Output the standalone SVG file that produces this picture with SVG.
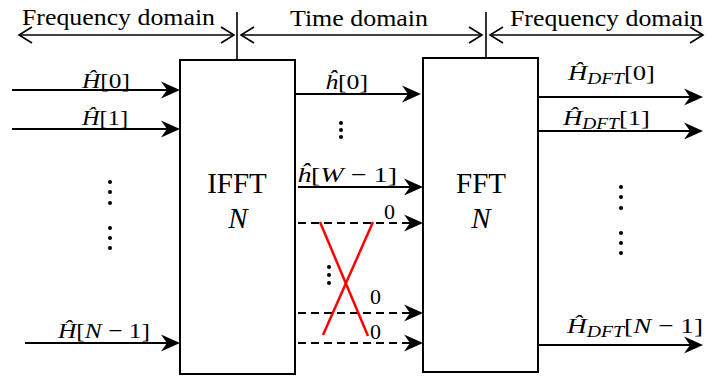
<svg xmlns="http://www.w3.org/2000/svg" width="706" height="376" viewBox="0 0 706 376">
<style>
.lbl{font-family:"Liberation Serif","Times New Roman",serif;font-size:23px;fill:#000}
.blk{font-family:"Liberation Serif","Times New Roman",serif;font-size:29px;fill:#000;text-anchor:middle}
.math{font-family:"Liberation Serif","DejaVu Serif",serif;font-size:22px;fill:#000}
.it{font-style:italic}
.box{fill:#fff;stroke:#000;stroke-width:2}
.ar{stroke:#000;stroke-width:2;fill:none;marker-end:url(#ah)}
.da{stroke:#000;stroke-width:2;fill:none;stroke-dasharray:8 5;marker-end:url(#ah)}
.dbl{stroke:#000;stroke-width:1.6;fill:none;marker-start:url(#oh);marker-end:url(#oh)}
.tick{stroke:#000;stroke-width:1.6}
.dot{fill:#000}
.red{stroke:#ff0000;stroke-width:2.5}
</style>
<defs>
<marker id="ah" markerUnits="userSpaceOnUse" markerWidth="22" markerHeight="20" viewBox="-20 -10 22 20" refX="-5" refY="0" orient="auto" overflow="visible">
<path d="M0,0 L-19,-8.5 L-13,0 L-19,8.5 z" fill="#000"/>
</marker>
<marker id="oh" markerUnits="userSpaceOnUse" markerWidth="20" markerHeight="20" viewBox="-16 -10 20 20" refX="0" refY="0" orient="auto-start-reverse" overflow="visible">
<path d="M-13,-8 L0,0 L-13,8" fill="none" stroke="#000" stroke-width="1.6"/>
</marker>
</defs>

<g id="domains">
<line class="tick" x1="237" y1="12" x2="237" y2="60"/>
<line class="tick" x1="486" y1="12" x2="486" y2="58"/>
<path class="dbl" d="M19,35 H234"/>
<path class="dbl" d="M241,35 H482"/>
<path class="dbl" d="M490,35 H703"/>
<text class="lbl" x="22" y="25" textLength="193" lengthAdjust="spacingAndGlyphs">Frequency domain</text>
<text class="lbl" x="290" y="26" textLength="138" lengthAdjust="spacingAndGlyphs">Time domain</text>
<text class="lbl" x="510" y="26" textLength="193" lengthAdjust="spacingAndGlyphs">Frequency domain</text>
</g>

<g id="ifft">
<rect class="box" x="180" y="60" width="115" height="314"/>
<text class="blk" x="237" y="193">IFFT</text>
<text class="blk it" x="238" y="228">N</text>
</g>

<g id="fft">
<rect class="box" x="423" y="58" width="115" height="314"/>
<text class="blk" x="481" y="193">FFT</text>
<text class="blk it" x="481" y="228">N</text>
</g>

<g id="connectors">
<path class="ar" d="M12,90 H175"/>
<path class="ar" d="M12,129 H175"/>
<path class="ar" d="M25,343 H175"/>
<path class="ar" d="M295,94 H416"/>
<path class="ar" d="M298,187 H418"/>
<path class="da" d="M298,223 H418"/>
<path class="da" d="M298,313 H418"/>
<path class="da" d="M298,343 H418"/>
<path class="ar" d="M538,97 H698"/>
<path class="ar" d="M538,131 H698"/>
<path class="ar" d="M538,345 H698"/>
<line class="red" x1="320" y1="222" x2="368" y2="336"/>
<line class="red" x1="373" y1="222" x2="323" y2="335"/>
</g>

<g id="labels">
<text class="math" x="82" y="88" textLength="48" lengthAdjust="spacingAndGlyphs"><tspan class="it">Ĥ</tspan>[0]</text>
<text class="math" x="82" y="125" textLength="46" lengthAdjust="spacingAndGlyphs"><tspan class="it">Ĥ</tspan>[1]</text>
<text class="math" x="58" y="338" textLength="92" lengthAdjust="spacingAndGlyphs"><tspan class="it">Ĥ</tspan>[<tspan class="it">N</tspan> − 1]</text>
<text class="math" x="325" y="89" textLength="43" lengthAdjust="spacingAndGlyphs"><tspan class="it">ĥ</tspan>[0]</text>
<text class="math" x="297" y="182" textLength="100" lengthAdjust="spacingAndGlyphs"><tspan class="it">ĥ</tspan>[<tspan class="it">W</tspan> − 1]</text>
<text class="math" x="384" y="219">0</text>
<text class="math" x="370" y="304">0</text>
<text class="math" x="370" y="339">0</text>
<text class="math" x="568" y="80" textLength="87" lengthAdjust="spacingAndGlyphs"><tspan class="it">Ĥ</tspan><tspan class="it" font-size="16" dy="4">DFT</tspan><tspan dy="-4">[0]</tspan></text>
<text class="math" x="563" y="125" textLength="87" lengthAdjust="spacingAndGlyphs"><tspan class="it">Ĥ</tspan><tspan class="it" font-size="16" dy="4">DFT</tspan><tspan dy="-4">[1]</tspan></text>
<text class="math" x="567" y="333" textLength="136" lengthAdjust="spacingAndGlyphs"><tspan class="it">Ĥ</tspan><tspan class="it" font-size="16" dy="4">DFT</tspan><tspan dy="-4">[</tspan><tspan class="it">N</tspan> − 1]</text>
</g>

<g id="dots">
<circle class="dot" cx="110" cy="182" r="2"/><circle class="dot" cx="110" cy="192" r="2"/><circle class="dot" cx="110" cy="203" r="2"/>
<circle class="dot" cx="110" cy="228" r="2"/><circle class="dot" cx="110" cy="238" r="2"/><circle class="dot" cx="110" cy="248" r="2"/>
<circle class="dot" cx="341" cy="123" r="2"/><circle class="dot" cx="341" cy="130" r="2"/><circle class="dot" cx="341" cy="137" r="2"/>
<circle class="dot" cx="329" cy="267" r="2"/><circle class="dot" cx="329" cy="275" r="2"/><circle class="dot" cx="329" cy="283" r="2"/>
<circle class="dot" cx="621" cy="187" r="2"/><circle class="dot" cx="621" cy="197" r="2"/><circle class="dot" cx="621" cy="208" r="2"/>
<circle class="dot" cx="621" cy="233" r="2"/><circle class="dot" cx="621" cy="243" r="2"/><circle class="dot" cx="621" cy="253" r="2"/>
</g>
</svg>
